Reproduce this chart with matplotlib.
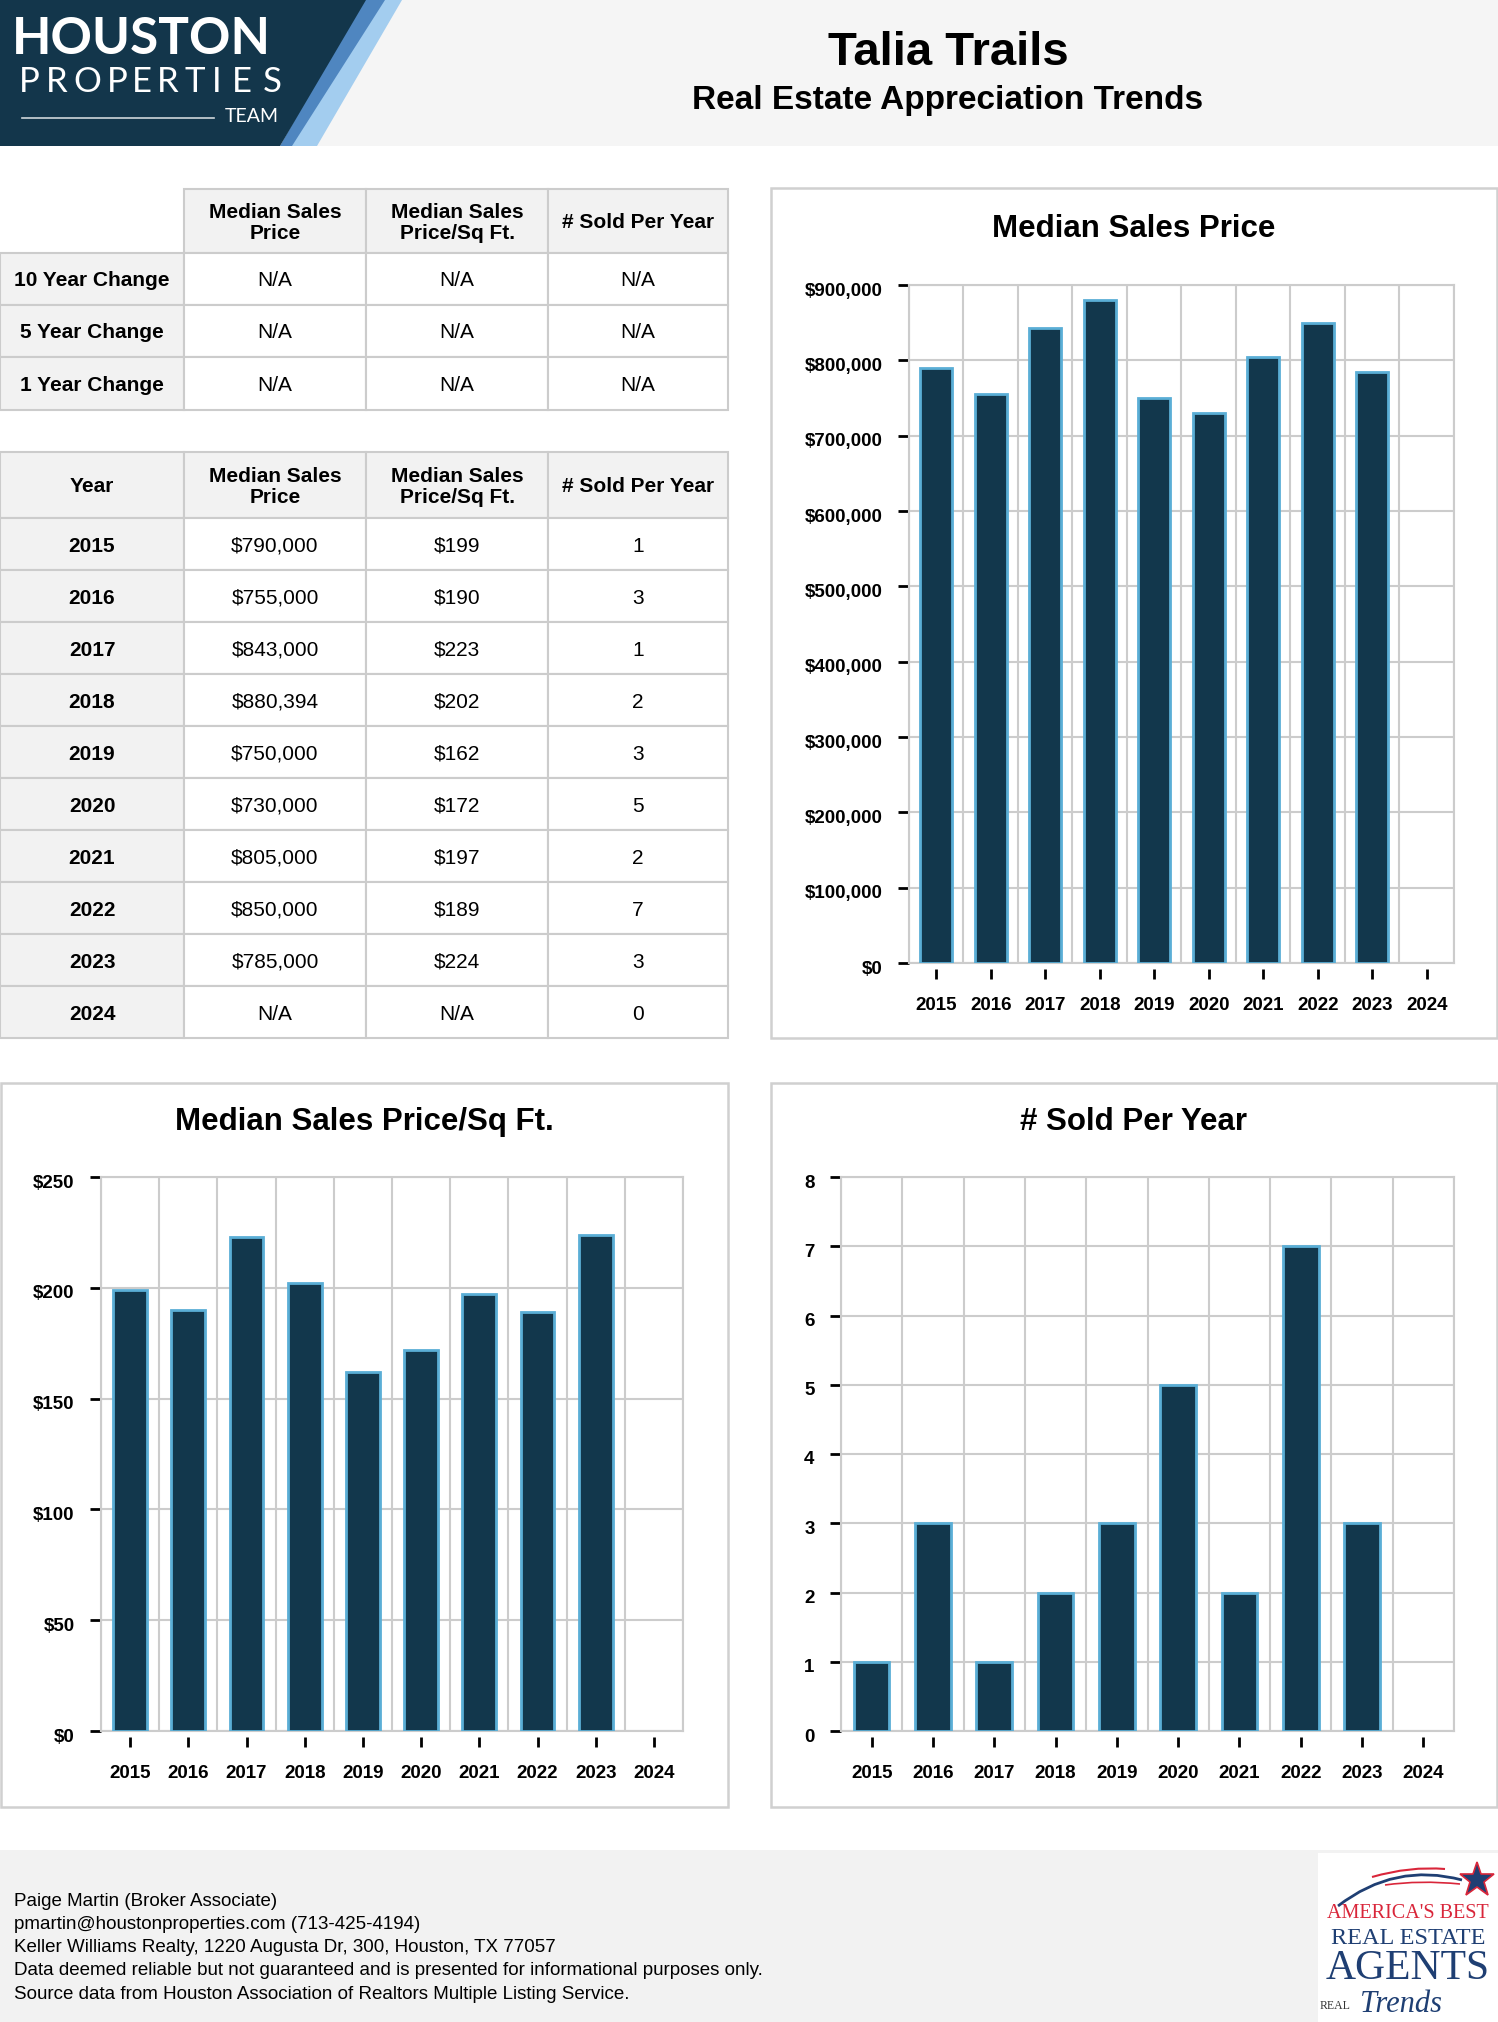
import numpy as np
import matplotlib
matplotlib.use('Agg')
import matplotlib.pyplot as plt
import matplotlib.transforms as mtransforms
from matplotlib.patches import Rectangle, Polygon, PathPatch
from matplotlib.path import Path
from matplotlib.ticker import MultipleLocator, FuncFormatter

# --- data ---
years = [2015, 2016, 2017, 2018, 2019, 2020, 2021, 2022, 2023, 2024]
median_price = [790000, 755000, 843000, 880394, 750000, 730000, 805000, 850000, 785000, None]
price_sqft = [199, 190, 223, 202, 162, 172, 197, 189, 224, None]
sold = [1, 3, 1, 2, 3, 5, 2, 7, 3, 0]

change_rows = ['10 Year Change', '5 Year Change', '1 Year Change']
change_vals = [['N/A', 'N/A', 'N/A'], ['N/A', 'N/A', 'N/A'], ['N/A', 'N/A', 'N/A']]
col_heads = ['Median Sales\nPrice', 'Median Sales\nPrice/Sq Ft.', '# Sold Per Year']

footer_lines = [
    'Paige Martin (Broker Associate)',
    'pmartin@houstonproperties.com (713-425-4194)',
    'Keller Williams Realty, 1220 Augusta Dr, 300, Houston, TX 77057',
    'Data deemed reliable but not guaranteed and is presented for informational purposes only.',
    'Source data from Houston Association of Realtors Multiple Listing Service.',
]

W, H = 1498, 2022
NAVY = '#12374c'
EDGE = '#5aaed6'
GRID = '#cccccc'
LIGHT = '#f2f2f2'
SANS = ['Liberation Sans', 'DejaVu Sans']

plt.rcParams['font.family'] = SANS

fig = plt.figure(figsize=(W / 100, H / 100), dpi=100)
bg = fig.add_axes([0, 0, 1, 1])
bg.set_xlim(0, W)
bg.set_ylim(H, 0)
bg.axis('off')

# header band + logo
bg.add_patch(Rectangle((0, 0), W, 146, facecolor='#f5f5f5', edgecolor='none'))
bg.add_patch(Polygon([(380, 0), (402, 0), (317, 146), (284, 146)], facecolor='#a3cdef', edgecolor='none'))
bg.add_patch(Polygon([(362, 0), (385, 0), (292, 146), (280, 146)], facecolor='#4f86c0', edgecolor='none'))
bg.add_patch(Polygon([(0, 0), (366, 0), (280, 146), (0, 146)], facecolor='#13364b', edgecolor='none'))
bg.text(12, 40, 'HOUSTON', color='white', fontsize=37, fontweight='bold',
        family=['Lato', 'DejaVu Sans'], ha='left', va='center')
letter_x = [29, 57, 87, 117, 142, 168, 195, 217, 242, 272]
for ch, cx in zip('PROPERTIES', letter_x):
    bg.text(cx, 82, ch, color='white', fontsize=25, family=['Lato', 'DejaVu Sans'],
            ha='center', va='center')
bg.plot([22, 214], [118, 118], color='white', lw=1.2, alpha=0.8)
bg.text(252, 117, 'TEAM', color='white', fontsize=14, family=['Lato', 'DejaVu Sans'],
        ha='center', va='center')

bg.text(948, 53, 'Talia Trails', fontsize=34, fontweight='bold',
        ha='center', va='center')
bg.text(948, 100, 'Real Estate Appreciation Trends', fontsize=24, fontweight='bold',
        ha='center', va='center')


# --- tables ---
def cell(x0, x1, y0, y1, text, fill='white', bold=False):
    bg.add_patch(Rectangle((x0, y0), x1 - x0, y1 - y0, facecolor=fill,
                           edgecolor=GRID, lw=1.5))
    bg.text((x0 + x1) / 2, (y0 + y1) / 2 + 2, text, ha='center', va='center',
            fontsize=15, fontweight='bold' if bold else 'normal', linespacing=1.15)


cols = [0, 184, 366, 548, 728]

# change table
rows1 = [189, 253, 305, 357, 410]
for j, head in enumerate(col_heads):
    cell(cols[j + 1], cols[j + 2], rows1[0], rows1[1], head, LIGHT, True)
for i, name in enumerate(change_rows):
    cell(cols[0], cols[1], rows1[i + 1], rows1[i + 2], name, LIGHT, True)
    for j, v in enumerate(change_vals[i]):
        cell(cols[j + 1], cols[j + 2], rows1[i + 1], rows1[i + 2], v)

# yearly table
top2, head2, rowh = 452, 518, 52
cell(cols[0], cols[1], top2, head2, 'Year', LIGHT, True)
for j, head in enumerate(col_heads):
    cell(cols[j + 1], cols[j + 2], top2, head2, head, LIGHT, True)
for i, yr in enumerate(years):
    y0 = head2 + i * rowh
    p = 'N/A' if median_price[i] is None else '${:,}'.format(median_price[i])
    s = 'N/A' if price_sqft[i] is None else '${}'.format(price_sqft[i])
    cell(cols[0], cols[1], y0, y0 + rowh, str(yr), LIGHT, True)
    cell(cols[1], cols[2], y0, y0 + rowh, p)
    cell(cols[2], cols[3], y0, y0 + rowh, s)
    cell(cols[3], cols[4], y0, y0 + rowh, str(sold[i]))


# --- charts ---
def bar_chart(box, axrect, title, title_y, values, ymax, step, fmt):
    x0, y0, x1, y1 = box
    bg.add_patch(Rectangle((x0, y0), x1 - x0, y1 - y0, facecolor='white',
                           edgecolor='#d0d0d0', lw=1.8))
    bg.text((x0 + x1) / 2, title_y, title, ha='center', va='center',
            fontsize=22.5, fontweight='bold')
    a0, b0, a1, b1 = axrect
    ax = fig.add_axes([a0 / W, 1 - b1 / H, (a1 - a0) / W, (b1 - b0) / H])
    # offset bottom spine first: set_position rebuilds the ticks
    ax.spines['bottom'].set_position(('outward', 4))
    ax.spines['bottom'].set_visible(False)
    x = np.arange(len(years))
    h = [np.nan if not v else v for v in values]
    ax.bar(x, h, width=0.58, color=NAVY, edgecolor=EDGE, linewidth=2, zorder=3)
    ax.set_xlim(-0.5, len(years) - 0.5)
    ax.set_ylim(0, ymax)
    ax.yaxis.set_major_locator(MultipleLocator(step))
    ax.yaxis.set_major_formatter(FuncFormatter(fmt))
    ax.set_xticks(x)
    ax.set_xticklabels([str(y) for y in years])
    ax.set_xticks(np.arange(len(years) + 1) - 0.5, minor=True)
    ax.grid(True, which='minor', axis='x', color=GRID, lw=1.5)
    ax.grid(True, which='major', axis='y', color=GRID, lw=1.5)
    ax.tick_params(axis='x', which='minor', length=0)
    ax.tick_params(axis='y', length=8, width=2, pad=11, labelsize=13.5)
    ax.tick_params(axis='x', which='major', length=7, width=2, pad=13.5, labelsize=13.5)
    down = mtransforms.ScaledTranslation(0, -4 / 100, fig.dpi_scale_trans)
    for lab in ax.get_yticklabels():
        lab.set_transform(lab.get_transform() + down)
    for lab in ax.get_xticklabels() + ax.get_yticklabels():
        lab.set_fontweight('bold')
    for sp in ax.spines.values():
        sp.set_color(GRID)
        sp.set_linewidth(1.5)
    ax.axhline(0, color=GRID, lw=1.5, clip_on=False, zorder=1)
    ax.set_axisbelow(True)
    return ax


bar_chart((771, 188, 1497, 1038), (909, 285, 1454, 963), 'Median Sales Price', 229,
          median_price, 900000, 100000, lambda v, p: '${:,.0f}'.format(v))
bar_chart((1, 1083, 728, 1807), (101, 1177, 683, 1731), 'Median Sales Price/Sq Ft.', 1122,
          price_sqft, 250, 50, lambda v, p: '${:.0f}'.format(v))
bar_chart((771, 1083, 1497, 1807), (841, 1177, 1454, 1731), '# Sold Per Year', 1122,
          sold, 8, 1, lambda v, p: '{:.0f}'.format(v))

# --- footer ---
bg.add_patch(Rectangle((0, 1850), W, H - 1850, facecolor=LIGHT, edgecolor='none'))
for k, line in enumerate(footer_lines):
    bg.text(14, 1901 + k * 23.3, line, fontsize=13.5, ha='left', va='center')

# award logo
bg.add_patch(Rectangle((1318, 1853), 180, 169, facecolor='white', edgecolor='none'))
arc = Path([(1338, 1906), (1395, 1862), (1462, 1880)], [Path.MOVETO, Path.CURVE3, Path.CURVE3])
bg.add_patch(PathPatch(arc, facecolor='none', edgecolor='#1f3f73', lw=2))
red1 = Path([(1372, 1877), (1410, 1866), (1445, 1869)], [Path.MOVETO, Path.CURVE3, Path.CURVE3])
bg.add_patch(PathPatch(red1, facecolor='none', edgecolor='#d9263a', lw=1.5))
red2 = Path([(1385, 1885), (1420, 1880), (1460, 1884)], [Path.MOVETO, Path.CURVE3, Path.CURVE3])
bg.add_patch(PathPatch(red2, facecolor='none', edgecolor='#d9263a', lw=1.2))
bg.plot([1477], [1880], marker='*', markersize=26, color='#1f3f73',
        markeredgecolor='#d9263a', markeredgewidth=1.2)
serif = ['Liberation Serif', 'DejaVu Serif']
bg.text(1408, 1914, "AMERICA'S BEST", color='#d9263a', fontsize=14.5, family=serif,
        ha='center', va='center')
bg.text(1408, 1939, 'REAL ESTATE', color='#1f3f73', fontsize=17.5, family=serif,
        ha='center', va='center')
bg.text(1408, 1969, 'AGENTS', color='#1f3f73', fontsize=30, family=serif,
        ha='center', va='center')
bg.text(1320, 2006, 'REAL', color='#333333', fontsize=8.5, family=serif,
        ha='left', va='center')
bg.text(1360, 2004, 'Trends', color='#1f3f73', fontsize=22, family=serif,
        style='italic', ha='left', va='center')

fig.savefig('out.png', dpi=100)
